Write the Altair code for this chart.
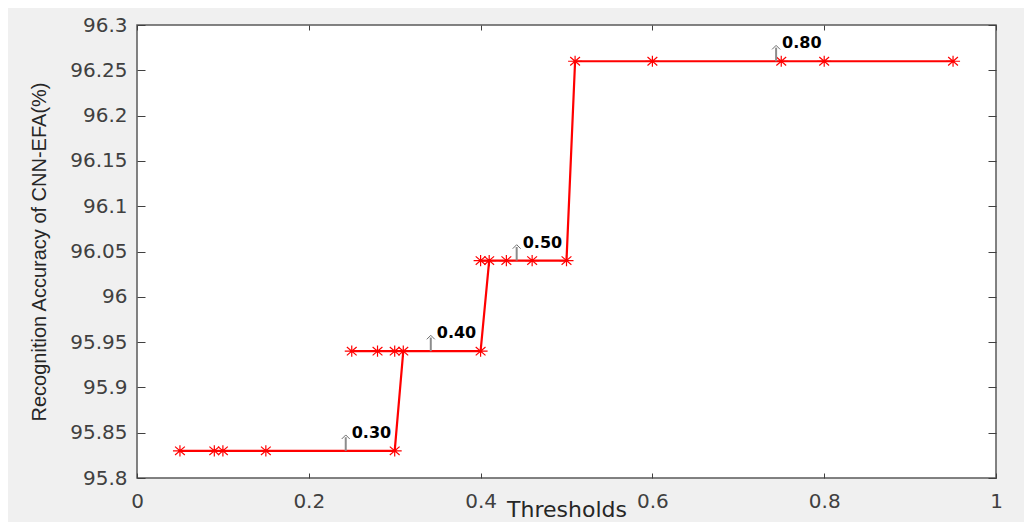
import altair as alt
import pandas as pd

# ---- data ----
thresholds = [0.05, 0.09, 0.10, 0.15, 0.30,
              0.25, 0.28, 0.30, 0.31, 0.40,
              0.40, 0.41, 0.43, 0.46, 0.50,
              0.51, 0.60, 0.75, 0.80, 0.95]
accuracy = [95.83, 95.83, 95.83, 95.83, 95.83,
            95.94, 95.94, 95.94, 95.94, 95.94,
            96.04, 96.04, 96.04, 96.04, 96.04,
            96.26, 96.26, 96.26, 96.26, 96.26]
# order in which the line visits the points
path_order = [1, 2, 3, 4, 5,
              9, 8, 7, 6, 10,
              12, 11, 13, 14, 15,
              16, 17, 18, 19, 20]

ann_x = [0.243, 0.342, 0.442, 0.744]
ann_y = [95.83, 95.94, 96.04, 96.26]
ann_label = ["0.30", "0.40", "0.50", "0.80"]

x_ticks = [0, 0.2, 0.4, 0.6, 0.8, 1.0]
y_ticks = [95.8, 95.85, 95.9, 95.95, 96.0, 96.05, 96.1, 96.15, 96.2, 96.25, 96.3]

df = pd.DataFrame({"t": thresholds, "acc": accuracy, "seq": path_order})
ann = pd.DataFrame({"x": ann_x, "y": ann_y, "label": ann_label})

xs = alt.Scale(domain=[0, 1], nice=False, zero=False)
ys = alt.Scale(domain=[95.8, 96.3], nice=False, zero=False)

TICK = "#404040"
STAR = "M-1,0L1,0M0,-0.8L0,0.8M-0.7,-0.6L0.7,0.6M-0.7,0.6L0.7,-0.6"
CHEVRON = "M-1,1L0,0L1,1"

line = alt.Chart(df).mark_line(color="#ff0000", strokeWidth=2.2).encode(
    x=alt.X("t:Q", scale=xs, axis=alt.Axis(
        orient="bottom", values=x_ticks, format=".1~f", ticks=False, tickSize=0,
        domain=False, grid=False, labelFlush=False, labelOverlap=False,
        labelFont="DejaVu Sans", labelFontSize=20, labelColor="#404040",
        labelPadding=13, title="Thresholds", titleFont="DejaVu Sans",
        titleFontSize=22, titleFontWeight="normal", titleColor="#262626",
        titleY=38, titleBaseline="alphabetic")),
    y=alt.Y("acc:Q", scale=ys, axis=alt.Axis(
        orient="left", values=y_ticks, format=".2~f", ticks=False, tickSize=0,
        domain=False, grid=False, labelFlush=False, labelOverlap=False,
        labelFont="DejaVu Sans", labelFontSize=20, labelColor="#404040",
        labelPadding=10, title="Recognition Accuracy of CNN-EFA(%)",
        titleFont="Liberation Sans", titleFontSize=20, titleFontWeight="normal",
        titleColor="#262626", titlePadding=20)),
    order="seq:Q",
)

pts = alt.Chart(df).mark_point(
    shape=STAR, size=196, filled=False, color="#ff0000", strokeWidth=1.2, opacity=1
).encode(
    x=alt.X("t:Q", scale=xs, axis=alt.Axis(
        orient="bottom", offset=-5, tickSize=5, labels=False, domain=False,
        grid=False, title=None, values=x_ticks, tickColor=TICK)),
    y=alt.Y("acc:Q", scale=ys, axis=alt.Axis(
        orient="left", offset=-8, tickSize=8, labels=False, domain=False,
        grid=False, title=None, values=y_ticks, tickColor=TICK)),
)

shaft = alt.Chart(ann).transform_calculate(tip="datum.y + 0.015").mark_rule(
    color="#8c8c8c", strokeWidth=2
).encode(
    x=alt.X("x:Q", scale=xs, axis=alt.Axis(
        orient="top", offset=-5, tickSize=5, labels=False, domain=False,
        grid=False, title=None, values=x_ticks, tickColor=TICK)),
    y=alt.Y("y:Q", scale=ys, axis=alt.Axis(
        orient="right", offset=-8, tickSize=8, labels=False, domain=False,
        grid=False, title=None, values=y_ticks, tickColor=TICK)),
    y2="tip:Q",
)

chev = alt.Chart(ann).transform_calculate(head="datum.y + 0.0175").mark_point(
    shape=CHEVRON, size=64, filled=False, color="#6e6e6e", strokeWidth=1, opacity=1
).encode(
    x=alt.X("x:Q", scale=xs, axis=None),
    y=alt.Y("head:Q", scale=ys, axis=None),
)

txt = alt.Chart(ann).mark_text(
    align="left", baseline="alphabetic", dx=6, dy=-13,
    font="DejaVu Sans", fontSize=16, fontWeight="bold", color="#000000"
).encode(
    x=alt.X("x:Q", scale=xs, axis=None),
    y=alt.Y("y:Q", scale=ys, axis=None),
    text="label:N",
)

chart = alt.layer(line, pts, shaft, chev, txt).resolve_axis(
    x="independent", y="independent"
).properties(
    width=859, height=453,
    padding={"left": 129, "top": 17, "right": 28, "bottom": 44},
    autosize=alt.AutoSizeParams(type="none"),
    background="#f0f0f0",
).configure_view(stroke="#5a5a5a", strokeWidth=1.5, fill="white")

chart.save("out.html", embed_options={"renderer": "svg", "actions": False})
